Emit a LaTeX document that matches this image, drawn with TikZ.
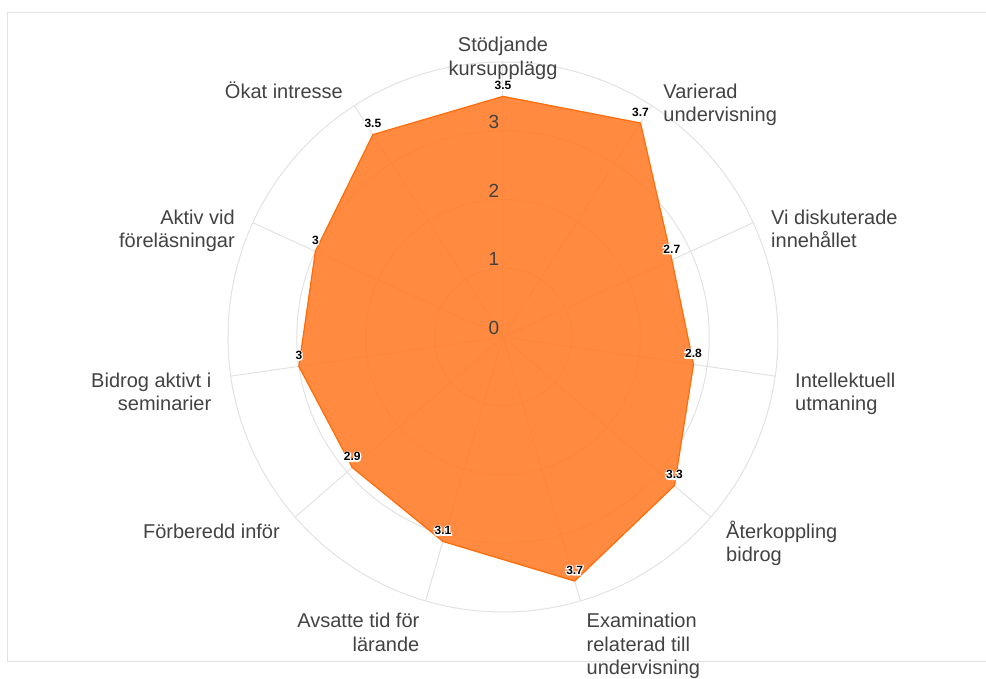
\documentclass[tikz,border=0pt]{standalone}
\usepackage{fontspec}
\setmainfont{Liberation Sans}
\newfontfamily\halofont{Liberation Sans Bold}[FakeBold=20]
\usetikzlibrary{calc}
\definecolor{gridc}{RGB}{226,226,226}
\definecolor{fillc}{RGB}{255,125,43}
\definecolor{linec}{RGB}{255,108,8}
\definecolor{labc}{RGB}{66,66,66}
\newcommand\halo[1]{\rlap{\halofont\color{white}#1}#1}
\newcommand\lines[2]{\begin{tabular}[t]{@{}#1@{}}#2\end{tabular}}
\begin{document}
\begin{tikzpicture}[x=1pt,y=1pt,
  gridline/.style={draw=gridc, line width=1pt},
  axlab/.style={text=labc, inner sep=0pt, font=\fontsize{20}{23.5}\selectfont},
  ticklab/.style={text=labc, inner sep=0pt, font=\fontsize{19}{22}\selectfont},
  vallab/.style={inner sep=0pt, anchor=base, yshift=6.7pt, font=\fontsize{12}{14}\selectfont\bfseries},
  area/.style={fill=fillc, fill opacity=0.9, draw=linec, line width=1.2pt, line join=miter}
]
\useasboundingbox (-503,-342) rectangle (483,337);
% frame
\draw[gridline] (-495.5,-325) rectangle (495,324);
% grid
\coordinate (c) at (0,0);
\foreach \r in {1,2,3,4}{
  \draw[gridline] (c) circle ({\r*68.75});
}
\foreach \k in {0,...,10}{
  \coordinate (e\k) at ({90-\k*360/11}:275);
  \draw[gridline] (c) -- (e\k);
}
% data vertices
\foreach \k/\v in {0/3.5,1/3.7,2/2.7,3/2.8,4/3.3,5/3.7,6/3.1,7/2.9,8/3,9/3,10/3.5}{
  \coordinate (v\k) at ({90-\k*360/11}:{\v*68.75});
}
\draw[area] (v0) -- (v1) -- (v2) -- (v3) -- (v4) -- (v5) -- (v6) -- (v7) -- (v8) -- (v9) -- (v10) -- cycle;
% tick labels
\foreach \t in {0,1,2,3}{
  \node[ticklab] (t\t) at (-9,{9+\t*68.75}) {\t};
}
% value labels
\foreach \k/\v in {0/3.5,1/3.7,2/2.7,3/2.8,4/3.3,5/3.7,6/3.1,7/2.9,8/3,9/3,10/3.5}{
  \node[vallab] (n\k) at (v\k) {\halo{\v}};
}
% axis labels
\node[axlab, anchor=base] (a0) at (0,285.3) {\lines{c}{Stödjande\\kursupplägg}};
\node[axlab, anchor=base west] (a1) at (160.3,238.7) {\lines{l}{Varierad\\undervisning}};
\node[axlab, anchor=base west] (a2) at (268,112.7) {\lines{l}{Vi diskuterade\\innehållet}};
\node[axlab, anchor=base west] (a3) at (292,-50.5) {\lines{l}{Intellektuell\\utmaning}};
\node[axlab, anchor=base west] (a4) at (223,-201.3) {\lines{l}{Återkoppling\\bidrog}};
\node[axlab, anchor=base west] (a5) at (83.5,-291) {\lines{l}{Examination\\relaterad till\\undervisning}};
\node[axlab, anchor=base east] (a6) at (-83.5,-291) {\lines{r}{Avsatte tid för\\lärande}};
\node[axlab, anchor=base east] (a7) at (-223,-201.3) {\lines{r}{Förberedd inför}};
\node[axlab, anchor=base east] (a8) at (-291.5,-50.5) {\lines{r}{Bidrog aktivt i\\seminarier}};
\node[axlab, anchor=base east] (a9) at (-268,112.7) {\lines{r}{Aktiv vid\\föreläsningar}};
\node[axlab, anchor=base east] (a10) at (-160,238.7) {\lines{r}{Ökat intresse}};
\end{tikzpicture}
\end{document}
